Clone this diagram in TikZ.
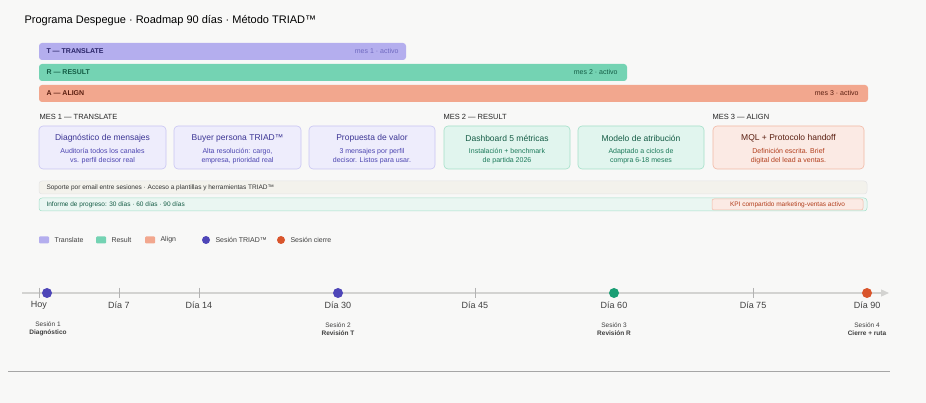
\documentclass[tikz,border=0pt]{standalone}
\usepackage{fontspec}
\setmainfont{Liberation Sans}
\usetikzlibrary{arrows.meta}
\definecolor{bg}{HTML}{F8F8F7}
\definecolor{tbar}{HTML}{B4AEEE}\definecolor{rbar}{HTML}{74D3B3}\definecolor{abar}{HTML}{F2A78E}
\definecolor{tfill}{HTML}{EEEDFC}\definecolor{tline}{HTML}{C9C5F3}\definecolor{ttitle}{HTML}{3B3494}\definecolor{ttext}{HTML}{4B44B0}
\definecolor{rfill}{HTML}{E1F5EE}\definecolor{rline}{HTML}{A3E0C9}\definecolor{rtitle}{HTML}{145C45}\definecolor{rtext}{HTML}{1C7A5A}
\definecolor{afill}{HTML}{FBEAE4}\definecolor{aline}{HTML}{F2B8A4}\definecolor{atitle}{HTML}{5A1E10}\definecolor{atext}{HTML}{B23E1C}
\definecolor{dT}{HTML}{4E46B8}\definecolor{dR}{HTML}{1A9E74}\definecolor{dA}{HTML}{D9552C}
\definecolor{axis}{HTML}{D3D3D1}\definecolor{supf}{HTML}{F3F2EC}
\tikzset{
 bar/.style={rounded corners=3pt,draw=none},
 barlab/.style={anchor=west,font=\bfseries\fontsize{7}{8}\selectfont},
 barnote/.style={anchor=east,font=\fontsize{7}{8}\selectfont},
 card/.style={rounded corners=4pt,line width=0.6pt},
 ctitle/.style={font=\fontsize{8.5}{9}\selectfont,align=center},
 ctext/.style={font=\fontsize{7}{8.5}\selectfont,align=center},
 mes/.style={anchor=west,font=\fontsize{7.5}{9}\selectfont,text=black!85},
 day/.style={font=\fontsize{9}{10}\selectfont,text=black!75},
 ses/.style={font=\fontsize{6.5}{8}\selectfont,align=center,text=black!75},
 dot/.style={circle,minimum size=10pt,inner sep=0,draw=none},
 tick/.style={draw=black!30,line width=0.5pt},
 leg/.style={anchor=west,font=\fontsize{7}{8}\selectfont,text=black!75}
}
\begin{document}
\begin{tikzpicture}[x=1pt,y=-1pt]
\fill[bg] (0,0) rectangle (926,403);
\useasboundingbox (0,0) rectangle (926,403);
\node[anchor=west,font=\fontsize{11}{12}\selectfont] (title) at (21,21) {Programa Despegue · Roadmap 90 días · Método TRIAD™};
% bars
\fill[bar,tbar] (39,43) rectangle (406,60);
\node[barlab,text=ttitle!70!black] (tb) at (43,51.5) {T — TRANSLATE};
\node[barnote,text=ttext!80] (tn) at (402,51.5) {mes 1 · activo};
\fill[bar,rbar] (39,64) rectangle (627,81);
\node[barlab,text=rtitle] (rb) at (43,72.5) {R — RESULT};
\node[barnote,text=rtitle] (rn) at (621,72.5) {mes 2 · activo};
\fill[bar,abar] (39,85) rectangle (868,102);
\node[barlab,text=atitle] (ab) at (43,93.5) {A — ALIGN};
\node[barnote,text=atitle] (an) at (862,93.5) {mes 3 · activo};
% headers
\node[mes] (m1) at (36,117) {MES 1 — TRANSLATE};
\node[mes] (m2) at (440,117) {MES 2 — RESULT};
\node[mes] (m3) at (709,117) {MES 3 — ALIGN};
% cards
\foreach \a/\b/\f/\l/\tc/\xc/\t/\s [count=\i] in {
 39/166/tfill/tline/ttitle/ttext/{Diagnóstico de mensajes}/{Auditoría todos los canales\\vs. perfil decisor real},
 174/301/tfill/tline/ttitle/ttext/{Buyer persona TRIAD™}/{Alta resolución: cargo,\\empresa, prioridad real},
 309/435/tfill/tline/ttitle/ttext/{Propuesta de valor}/{3 mensajes por perfil\\decisor. Listos para usar.},
 444/570/rfill/rline/rtitle/rtext/{Dashboard 5 métricas}/{Instalación + benchmark\\de partida 2026},
 578/704/rfill/rline/rtitle/rtext/{Modelo de atribución}/{Adaptado a ciclos de\\compra 6-18 meses},
 713/864/afill/aline/atitle/atext/{MQL + Protocolo handoff}/{Definición escrita. Brief\\digital del lead a ventas.}}{
 \draw[card,fill=\f,draw=\l] (\a,126) rectangle (\b,169);
 \node[ctitle,text=\tc] (c\i) at ({(\a+\b)/2},138) {\t};
 \node[ctext,text=\xc] (s\i) at ({(\a+\b)/2},156) {\s};
}
% support bars
\draw[rounded corners=3pt,fill=supf,draw=black!10,line width=0.5pt] (39,181) rectangle (867,194);
\node[anchor=west,font=\fontsize{6.5}{7}\selectfont,text=black!80] (sup) at (43,187.5) {Soporte por email entre sesiones · Acceso a plantillas y herramientas TRIAD™};
\draw[rounded corners=3pt,fill=rfill!60!bg,draw=rline,line width=0.5pt] (39,198) rectangle (867,211);
\node[anchor=west,font=\fontsize{6.5}{7}\selectfont,text=rtitle] (prog) at (43,204.5) {Informe de progreso: 30 días · 60 días · 90 días};
\draw[rounded corners=2pt,fill=afill,draw=aline,line width=0.5pt] (712,199) rectangle (863,210);
\node[font=\fontsize{6.5}{7}\selectfont,text=atext] (kpi) at (787.5,204.5) {KPI compartido marketing-ventas activo};
% legend
\fill[rounded corners=1pt,tbar] (39,236.5) rectangle (49,243.5);
\node[leg] (l1) at (51,240) {Translate};
\fill[rounded corners=1pt,rbar] (96,236.5) rectangle (106,243.5);
\node[leg] (l2) at (108,240) {Result};
\fill[rounded corners=1pt,abar] (145,236.5) rectangle (155,243.5);
\node[leg] (l3) at (157,240) {Align};
\node[dot,fill=dT,minimum size=8pt] (ld1) at (206,240) {};
\node[leg] (l4) at (212,240) {Sesión TRIAD™};
\node[dot,fill=dA,minimum size=8pt] (ld2) at (281,240) {};
\node[leg] (l5) at (287,240) {Sesión cierre};
% timeline
\coordinate (ts) at (22,293);
\coordinate (te) at (889,293);
\draw[axis,line width=1.2pt,-{Triangle[length=8pt,width=7pt]}] (ts) -- (te);
\foreach \x in {39,119,199,475,753}{
 \draw[tick] (\x,288) -- (\x,298);
}
\node[dot,fill=dT] (d1) at (47,293) {};
\node[dot,fill=dT] (d2) at (338,293) {};
\node[dot,fill=dR] (d3) at (614,293) {};
\node[dot,fill=dA] (d4) at (867,293) {};
\foreach \x/\t in {39/Hoy,119/Día 7,199/Día 14,338/Día 30,475/Día 45,614/Día 60,753/Día 75,867/Día 90}{
 \node[day] at (\x,305) {\t};
}
\node[ses] (e1) at (48,329) {Sesión 1\\\textbf{Diagnóstico}};
\node[ses] (e2) at (338,329) {Sesión 2\\\textbf{Revisión T}};
\node[ses] (e3) at (614,329) {Sesión 3\\\textbf{Revisión R}};
\node[ses] (e4) at (867,329) {Sesión 4\\\textbf{Cierre + ruta}};
\draw[black!35,line width=0.6pt] (8,371) -- (890,371);
\end{tikzpicture}
\end{document}
